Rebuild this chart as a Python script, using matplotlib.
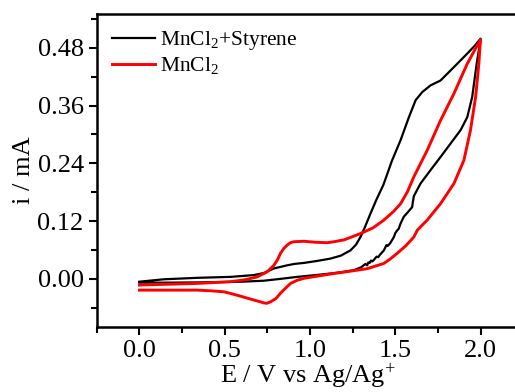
import numpy as np
import matplotlib
matplotlib.use("Agg")
import matplotlib.pyplot as plt
from matplotlib.ticker import MultipleLocator

plt.rcParams['font.family'] = 'Liberation Serif'
plt.rcParams['mathtext.fontset'] = 'custom'
plt.rcParams['mathtext.rm'] = 'Liberation Serif'
plt.rcParams['mathtext.it'] = 'Liberation Serif:italic'

# MnCl2 + styrene, forward scan (0 -> 2 V)
sty_fwd_E = [0.0, 0.143, 0.338, 0.534, 0.670, 0.729, 0.788, 0.830, 0.866, 0.910, 0.964,
             1.040, 1.120, 1.180, 1.237, 1.270, 1.296, 1.325, 1.355, 1.390, 1.430, 1.480,
             1.531, 1.580, 1.619, 1.658, 1.707, 1.765, 1.844, 1.922, 1.965, 2.0]
sty_fwd_i = [-0.006, -0.001, 0.002, 0.004, 0.0077, 0.012, 0.0215, 0.025, 0.028, 0.031, 0.033,
             0.037, 0.042, 0.048, 0.059, 0.071, 0.087, 0.110, 0.136, 0.165, 0.195, 0.245,
             0.288, 0.336, 0.371, 0.388, 0.402, 0.412, 0.440, 0.468, 0.484, 0.499]
# reverse scan (2 -> 0 V), with the small noise around 1.3-1.6 V
sty_rev_E = [2.0, 1.990, 1.977, 1.951, 1.922, 1.883, 1.824, 1.765, 1.707, 1.648, 1.609,
             1.603, 1.599, 1.575, 1.550, 1.531, 1.520, 1.512, 1.500, 1.492, 1.470, 1.455,
             1.448, 1.433, 1.410, 1.400, 1.390, 1.374, 1.365, 1.358, 1.350, 1.342, 1.335,
             1.325, 1.300, 1.257, 1.190, 1.120, 1.040, 0.925, 0.830, 0.729, 0.600, 0.450,
             0.338, 0.160, 0.0]
sty_rev_i = [0.499, 0.475, 0.447, 0.378, 0.336, 0.309, 0.281, 0.253, 0.226, 0.198, 0.172,
             0.160, 0.149, 0.139, 0.129, 0.115, 0.104, 0.101, 0.095, 0.087, 0.074, 0.068,
             0.070, 0.059, 0.050, 0.045, 0.046, 0.039, 0.036, 0.038, 0.033, 0.034, 0.028,
             0.031, 0.024, 0.018, 0.014, 0.011, 0.008, 0.004, 0.000, -0.004, -0.006, -0.007,
             -0.0075, -0.008, -0.008]

# MnCl2 alone
mn_fwd_E = [0.0, 0.338, 0.534, 0.620, 0.690, 0.749, 0.788, 0.810, 0.827, 0.846, 0.866,
            0.885, 0.905, 0.964, 1.030, 1.100, 1.140, 1.200, 1.296, 1.370, 1.433, 1.490,
            1.531, 1.570, 1.609, 1.687, 1.765, 1.844, 1.922, 1.965, 2.0]
mn_fwd_i = [-0.013, -0.0096, -0.006, -0.002, 0.004, 0.0145, 0.028, 0.040, 0.053, 0.063, 0.070,
            0.075, 0.077, 0.078, 0.076, 0.075, 0.077, 0.081, 0.094, 0.106, 0.122, 0.140,
            0.156, 0.180, 0.212, 0.267, 0.329, 0.385, 0.447, 0.475, 0.497]
mn_rev_E = [2.0, 1.995, 1.990, 1.971, 1.941, 1.902, 1.844, 1.765, 1.687, 1.629, 1.609,
            1.560, 1.511, 1.470, 1.433, 1.380, 1.335, 1.240, 1.140, 1.050, 0.964, 0.925,
            0.886, 0.855, 0.827, 0.800, 0.768, 0.745, 0.729, 0.700, 0.670, 0.630, 0.592,
            0.540, 0.495, 0.420, 0.338, 0.160, 0.0]
mn_rev_i = [0.497, 0.475, 0.447, 0.378, 0.309, 0.246, 0.198, 0.156, 0.122, 0.101, 0.087,
            0.068, 0.053, 0.041, 0.032, 0.026, 0.021, 0.016, 0.011, 0.006, 0.001, -0.003,
            -0.0096, -0.020, -0.030, -0.041, -0.048, -0.051, -0.050, -0.047, -0.044, -0.040,
            -0.036, -0.031, -0.027, -0.025, -0.0235, -0.0235, -0.0235]

fig = plt.figure(figsize=(5.15, 3.92), dpi=100)
ax = fig.add_axes([0.188, 0.166, 0.818, 0.798])

ax.plot(sty_fwd_E + sty_rev_E[1:], sty_fwd_i + sty_rev_i[1:], color='black', lw=1.6,
        label=r'MnCl$_2$+Styrene', solid_joinstyle='round')
ax.plot(mn_fwd_E + mn_rev_E[1:], mn_fwd_i + mn_rev_i[1:], color='red', lw=2.1,
        label=r'MnCl$_2$', solid_joinstyle='round')

ax.set_xlim(-0.25, 2.22)
ax.set_ylim(-0.10, 0.55)
ax.xaxis.set_major_locator(MultipleLocator(0.5))
ax.xaxis.set_minor_locator(MultipleLocator(0.25))
ax.yaxis.set_major_locator(MultipleLocator(0.12))
ax.yaxis.set_minor_locator(MultipleLocator(0.06))
ax.xaxis.set_major_formatter(plt.FuncFormatter(lambda v, p: '%.1f' % v))
ax.yaxis.set_major_formatter(plt.FuncFormatter(lambda v, p: '%.2f' % v))
ax.tick_params(which='major', direction='out', length=6, width=1.5, labelsize=19)
ax.tick_params(which='minor', direction='out', length=4, width=1.5)
for s in ax.spines.values():
    s.set_linewidth(1.8)
ax.spines['right'].set_visible(False)

ax.set_xlabel(r'E / V vs Ag/Ag$^{+}$', fontsize=19, labelpad=0)
ax.set_ylabel('i / mA', fontsize=19, labelpad=2)

ax.legend(loc='upper left', frameon=False, fontsize=15.5, handlelength=2.0,
          handletextpad=0.25, labelspacing=0.15, borderaxespad=0.3)

fig.savefig('out.png', dpi=100)
